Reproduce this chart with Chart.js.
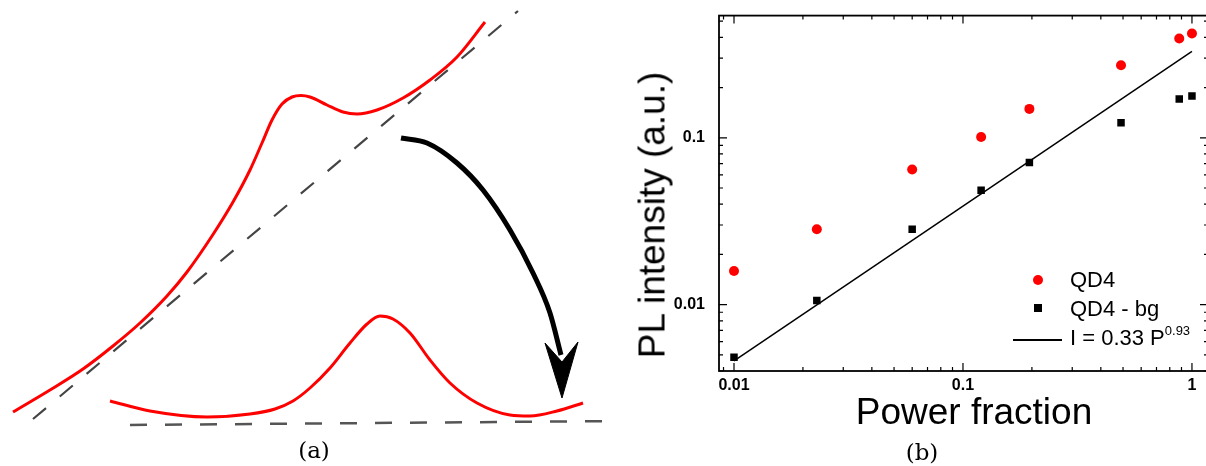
<!DOCTYPE html>
<html>
<head>
<meta charset="utf-8">
<title>Background subtraction and power dependence</title>
<script src="https://cdn.jsdelivr.net/npm/chart.js@4.4.1/dist/chart.umd.min.js"></script>
<style>
  html, body { margin: 0; padding: 0; background: #fff; overflow: hidden; width: 1206px; height: 466px; }
  #wrap { position: relative; width: 1206px; height: 466px; overflow: hidden; }
  canvas { position: absolute; top: 0; }
  #sketch { left: 0; }
  #plot { left: 630px; }
  .txt { position: absolute; white-space: nowrap; line-height: 1; color: #000; }
  .sans { font-family: "Liberation Sans", Arial, sans-serif; }
  .serif { font-family: "DejaVu Serif", "Liberation Serif", serif; font-size: 23px; }
  .title { font-size: 37px; transform: translate(-50%, -50%); }
  .legend { font-size: 22px; }
  .mark { position: absolute; }
</style>
</head>
<body>
<div id="wrap">
  <canvas id="sketch" width="630" height="466"></canvas>
  <canvas id="plot" width="586" height="466"></canvas>

  <div class="txt serif" style="left:314px; top:450px; transform: translate(-50%, -50%);">(a)</div>
  <div class="txt serif" style="left:922px; top:452px; transform: translate(-50%, -50%);">(b)</div>

  <div class="txt sans title" style="left:974px; top:411px;">Power fraction</div>
  <div class="txt sans title" style="left:652px; top:215px; transform: translate(-50%, -50%) rotate(-90deg);">PL intensity (a.u.)</div>

  <!-- legend -->
  <div class="mark" style="left:1033px; top:275px; width:10px; height:10px; border-radius:50%; background:#ff0000;"></div>
  <div class="mark" style="left:1034px; top:304px; width:8px; height:8px; background:#000;"></div>
  <div class="mark" style="left:1013px; top:339px; width:49px; height:2px; background:#000;"></div>
  <div class="txt sans legend" style="left:1070px; top:269px;">QD4</div>
  <div class="txt sans legend" style="left:1070px; top:298px;">QD4 - bg</div>
  <div class="txt sans legend" style="left:1070px; top:327px;">I = 0.33 P<span style="font-size:13px; position:relative; top:-10px;">0.93</span></div>
</div>

<script>
// ---- panel (b): measured PL intensity against excitation power fraction ----
const powerFrac = [0.01, 0.023, 0.06, 0.12, 0.195, 0.49, 0.88, 1.0];
const qd4 = [0.0159, 0.0283, 0.0645, 0.101, 0.149, 0.272, 0.394, 0.422];
const qd4Bg = [0.00484, 0.0106, 0.0283, 0.0484, 0.071, 0.123, 0.171, 0.178];
const fitPower = [0.01, 1];
const fitIntensity = [0.0046, 0.33];
const xTickLabels = [0.01, 0.1, 1];
const yTickLabels = [0.01, 0.1];

// ---- panel (a): sketch of a spectrum on a sloped background ----
const rawX = [13, 50, 83, 113, 140, 167, 187, 212, 233, 250, 262, 272, 282, 292, 301, 310, 327, 343, 357, 377, 403, 430, 457, 485];
const rawY = [412, 390, 369, 346, 323, 296, 272, 236, 202, 170, 143, 120, 104, 97, 95.5, 97, 105, 112, 114, 110, 98, 80, 57, 22];
const peakX = [110, 150, 207, 250, 275, 293, 310, 330, 350, 367, 380, 393, 410, 430, 450, 477, 510, 530, 557, 583];
const peakY = [401, 411, 417, 414, 409, 401, 388, 368, 343, 324, 316, 319, 333, 360, 383, 403, 415, 416, 411, 403];
const slopeX = [33, 518];
const slopeY = [419, 11];
const baseX = [130, 620];
const baseY = [425, 421];
const arrowX = [401, 427, 457, 483, 510, 533, 550, 561];
const arrowY = [138, 143, 163, 190, 230, 273, 313, 355];
const headX = [562, 545, 562, 578, 562];
const headY = [398, 343, 362, 342, 398];

Chart.defaults.font.family = '"Liberation Sans", Arial, sans-serif';
Chart.defaults.color = '#000';

function zip(xs, ys) {
  return xs.map((x, i) => ({ x: x, y: ys[i] }));
}

// minor ticks 1..9 x 10^n inside [lo, hi]
function logTicks(lo, hi) {
  const out = [];
  for (let e = Math.floor(Math.log10(lo)); e <= Math.ceil(Math.log10(hi)); e++) {
    for (let m = 1; m <= 9; m++) {
      const v = Number((m * Math.pow(10, e)).toPrecision(3));
      if (v >= lo && v <= hi) out.push(v);
    }
  }
  return out;
}

function isDecade(v) {
  const l = Math.log10(v);
  return Math.abs(l - Math.round(l)) < 1e-6;
}

// box frame with inward ticks on all four sides
const frameTicks = {
  id: 'frameTicks',
  afterDraw(chart) {
    const { ctx, chartArea: a, scales } = chart;
    ctx.save();
    ctx.strokeStyle = '#000';
    ctx.lineWidth = 1.2;
    ctx.beginPath();
    scales.x.ticks.forEach((t) => {
      const px = scales.x.getPixelForValue(t.value);
      if (px < a.left || px > a.right) return;
      const len = isDecade(t.value) ? 8 : 4;
      ctx.moveTo(px, a.bottom); ctx.lineTo(px, a.bottom - len);
      ctx.moveTo(px, a.top); ctx.lineTo(px, a.top + len);
    });
    scales.y.ticks.forEach((t) => {
      const py = scales.y.getPixelForValue(t.value);
      if (py < a.top || py > a.bottom) return;
      const len = isDecade(t.value) ? 8 : 4;
      ctx.moveTo(a.left, py); ctx.lineTo(a.left + len, py);
      ctx.moveTo(a.right, py); ctx.lineTo(a.right - len, py);
    });
    ctx.stroke();
    ctx.lineWidth = 1.8;
    ctx.strokeRect(a.left, a.top, a.right - a.left, a.bottom - a.top);
    ctx.restore();
  }
};

new Chart(document.getElementById('plot'), {
  type: 'scatter',
  data: {
    datasets: [
      {
        label: 'QD4',
        data: zip(powerFrac, qd4),
        pointStyle: 'circle',
        pointRadius: 5,
        backgroundColor: '#ff0000',
        borderWidth: 0
      },
      {
        label: 'QD4 - bg',
        data: zip(powerFrac, qd4Bg),
        pointStyle: 'rect',
        pointRadius: 5.3,
        backgroundColor: '#000',
        borderWidth: 0
      },
      {
        label: 'I = 0.33 P^0.93',
        data: zip(fitPower, fitIntensity),
        showLine: true,
        pointRadius: 0,
        borderColor: '#000',
        borderWidth: 1.5
      }
    ]
  },
  options: {
    responsive: false,
    animation: false,
    layout: { padding: { top: 13, right: 8, left: 0, bottom: 0 } },
    plugins: { legend: { display: false }, tooltip: { enabled: false } },
    scales: {
      x: {
        type: 'logarithmic',
        min: 0.0086,
        max: 1.175,
        grid: { display: false },
        border: { display: false },
        ticks: {
          autoSkip: false,
          maxRotation: 0,
          padding: -3,
          font: { size: 16, weight: 'bold' },
          callback: (v) => (xTickLabels.includes(v) ? String(v) : '')
        },
        afterBuildTicks: (scale) => {
          scale.ticks = logTicks(scale.min, scale.max).map((v) => ({ value: v }));
        },
        afterFit: (scale) => { scale.height = 95; }
      },
      y: {
        type: 'logarithmic',
        min: 0.004,
        max: 0.54,
        grid: { display: false },
        border: { display: false },
        ticks: {
          autoSkip: false,
          padding: 6,
          font: { size: 16, weight: 'bold' },
          callback: (v) => (yTickLabels.includes(v) ? String(v) : '')
        },
        afterBuildTicks: (scale) => {
          scale.ticks = logTicks(scale.min, scale.max).map((v) => ({ value: v }));
        },
        afterFit: (scale) => { scale.width = 89; }
      }
    }
  },
  plugins: [frameTicks]
});

// sketch panel: axes hidden, values are in the drawing's own units
new Chart(document.getElementById('sketch'), {
  type: 'line',
  data: {
    datasets: [
      { data: zip(rawX, rawY), borderColor: '#ff0000', borderWidth: 3, cubicInterpolationMode: 'monotone' },
      { data: zip(peakX, peakY), borderColor: '#ff0000', borderWidth: 3, cubicInterpolationMode: 'monotone' },
      { data: zip(arrowX, arrowY), borderColor: '#000', borderWidth: 5, cubicInterpolationMode: 'monotone' },
      { data: zip(headX, headY), borderColor: '#000', backgroundColor: '#000', borderWidth: 1, tension: 0, fill: 'shape' },
      { data: zip(slopeX, slopeY), borderColor: '#444', borderWidth: 2.2, borderDash: [17, 18], tension: 0 },
      { data: zip(baseX, baseY), borderColor: '#555', borderWidth: 2.5, borderDash: [17, 18], tension: 0 }
    ]
  },
  options: {
    responsive: false,
    animation: false,
    layout: { padding: 0 },
    elements: { point: { radius: 0 } },
    plugins: { legend: { display: false }, tooltip: { enabled: false } },
    scales: {
      x: { type: 'linear', min: 0, max: 630, display: false },
      y: { type: 'linear', min: 0, max: 466, reverse: true, display: false }
    }
  }
});
</script>
</body>
</html>
